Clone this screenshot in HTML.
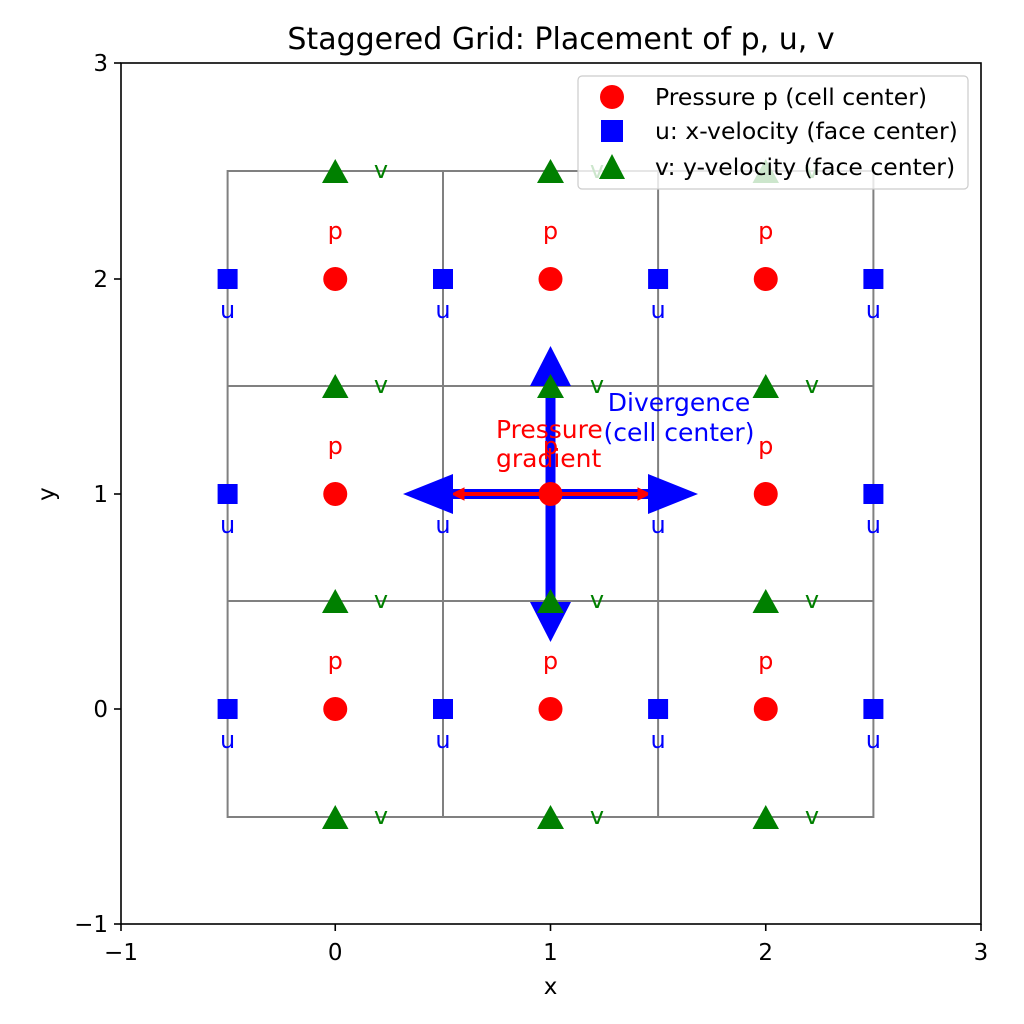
<!DOCTYPE html>
<html><head><meta charset="utf-8"><style>html,body{margin:0;padding:0;background:#fff}svg{display:block}text{font-family:"DejaVu Sans","Liberation Sans",sans-serif}</style></head>
<body>
<svg width="1024" height="1024" viewBox="0 0 1024 1024">
<rect width="1024" height="1024" fill="#fff"/>
<text x="561" y="49" style="font-size:30px" text-anchor="middle">Staggered Grid: Placement of p, u, v</text>
<g stroke="#808080" stroke-width="2" fill="none">
<rect x="227.6" y="171" width="645.8" height="646"/>
<line x1="443" y1="171" x2="443" y2="817"/>
<line x1="658.1" y1="171" x2="658.1" y2="817"/>
<line x1="227.6" y1="386" x2="873.4" y2="386"/>
<line x1="227.6" y1="601" x2="873.4" y2="601"/>
</g>
<g fill="#0000ff">
<rect x="545.5" y="384" width="10" height="220"/>
<rect x="450" y="489" width="200" height="10"/>
<polygon points="550.5,346 530,386 571,386"/>
<polygon points="550.5,642 530,602 571,602"/>
<polygon points="698,494 648,474 648,514"/>
<polygon points="403,494 453,474 453,514"/>
</g>
<g fill="#ff0000" stroke="#ff0000">
<line x1="458" y1="494" x2="644" y2="494" stroke-width="4"/>
<polygon points="452,494 464,488 464,500" stroke-width="1"/>
<polygon points="650,494 638,488 638,500" stroke-width="1"/>
</g>
<g fill="#ff0000">
<circle cx="335.25" cy="279" r="12"/><circle cx="550.5" cy="279" r="12"/><circle cx="765.75" cy="279" r="12"/>
<circle cx="335.25" cy="494" r="12"/><circle cx="550.5" cy="494" r="12"/><circle cx="765.75" cy="494" r="12"/>
<circle cx="335.25" cy="709" r="12"/><circle cx="550.5" cy="709" r="12"/><circle cx="765.75" cy="709" r="12"/>
</g>
<g fill="#0000ff">
<rect x="217.6" y="269" width="20" height="20"/><rect x="433" y="269" width="20" height="20"/><rect x="648.1" y="269" width="20" height="20"/><rect x="863.4" y="269" width="20" height="20"/>
<rect x="217.6" y="484" width="20" height="20"/><rect x="433" y="484" width="20" height="20"/><rect x="648.1" y="484" width="20" height="20"/><rect x="863.4" y="484" width="20" height="20"/>
<rect x="217.6" y="699" width="20" height="20"/><rect x="433" y="699" width="20" height="20"/><rect x="648.1" y="699" width="20" height="20"/><rect x="863.4" y="699" width="20" height="20"/>
</g>
<g fill="#008000">
<polygon points="335.25,159 322,183 348.5,183"/><polygon points="550.5,159 537,183 564,183"/><polygon points="765.75,159 752.5,183 779,183"/>
<polygon points="335.25,374 322,398 348.5,398"/><polygon points="550.5,374 537,398 564,398"/><polygon points="765.75,374 752.5,398 779,398"/>
<polygon points="335.25,589 322,613 348.5,613"/><polygon points="550.5,589 537,613 564,613"/><polygon points="765.75,589 752.5,613 779,613"/>
<polygon points="335.25,805 322,829 348.5,829"/><polygon points="550.5,805 537,829 564,829"/><polygon points="765.75,805 752.5,829 779,829"/>
</g>
<g style="font-size:24px" text-anchor="middle">
<g fill="#ff0000">
<text x="335.25" y="239">p</text><text x="550.5" y="239">p</text><text x="765.75" y="239">p</text>
<text x="335.25" y="454">p</text><text x="550.5" y="454">p</text><text x="765.75" y="454">p</text>
<text x="335.25" y="669">p</text><text x="550.5" y="669">p</text><text x="765.75" y="669">p</text>
</g>
<g fill="#0000ff">
<text x="227.6" y="318">u</text><text x="443" y="318">u</text><text x="658.1" y="318">u</text><text x="873.4" y="318">u</text>
<text x="227.6" y="533">u</text><text x="443" y="533">u</text><text x="658.1" y="533">u</text><text x="873.4" y="533">u</text>
<text x="227.6" y="748">u</text><text x="443" y="748">u</text><text x="658.1" y="748">u</text><text x="873.4" y="748">u</text>
</g>
<g fill="#008000">
<text x="381" y="178">v</text><text x="597" y="178">v</text><text x="812" y="178">v</text>
<text x="381" y="393">v</text><text x="597" y="393">v</text><text x="812" y="393">v</text>
<text x="381" y="608">v</text><text x="597" y="608">v</text><text x="812" y="608">v</text>
<text x="381" y="824">v</text><text x="597" y="824">v</text><text x="812" y="824">v</text>
</g>
</g>
<g style="font-size:25px">
<text x="496" y="438" fill="#ff0000">Pressure</text>
<text x="496" y="467" fill="#ff0000">gradient</text>
<text x="679" y="411" fill="#0000ff" text-anchor="middle">Divergence</text>
<text x="679" y="441" fill="#0000ff" text-anchor="middle">(cell center)</text>
</g>
<rect x="121" y="63" width="860" height="861" fill="none" stroke="#000" stroke-width="1.6"/>
<g stroke="#000" stroke-width="1.6">
<line x1="121" y1="924" x2="121" y2="931"/><line x1="335.25" y1="924" x2="335.25" y2="931"/><line x1="550.5" y1="924" x2="550.5" y2="931"/><line x1="765.75" y1="924" x2="765.75" y2="931"/><line x1="981" y1="924" x2="981" y2="931"/>
<line x1="114" y1="924" x2="121" y2="924"/><line x1="114" y1="709" x2="121" y2="709"/><line x1="114" y1="494" x2="121" y2="494"/><line x1="114" y1="279" x2="121" y2="279"/><line x1="114" y1="63" x2="121" y2="63"/>
</g>
<g style="font-size:23px" text-anchor="middle">
<text x="121" y="960">−1</text><text x="335.25" y="960">0</text><text x="550.5" y="960">1</text><text x="765.75" y="960">2</text><text x="981" y="960">3</text>
<text x="550.5" y="994">x</text>
</g>
<g style="font-size:23px" text-anchor="end">
<text x="108" y="932">−1</text><text x="108" y="717">0</text><text x="108" y="502">1</text><text x="108" y="287">2</text><text x="108" y="71">3</text>
</g>
<text x="54" y="494" style="font-size:23px" text-anchor="middle" transform="rotate(-90 54 494)">y</text>
<rect x="578" y="76" width="390" height="113" rx="4" fill="#fff" fill-opacity="0.8" stroke="#ccc" stroke-width="1.2"/>
<circle cx="612" cy="97" r="12" fill="#ff0000"/>
<rect x="601" y="120" width="22" height="22" fill="#0000ff"/>
<polygon points="612,154 599,179 625,179" fill="#008000"/>
<g style="font-size:23.5px">
<text x="655" y="105">Pressure p (cell center)</text>
<text x="655" y="139">u: x-velocity (face center)</text>
<text x="655" y="175">v: y-velocity (face center)</text>
</g>
</svg>
</body></html>
